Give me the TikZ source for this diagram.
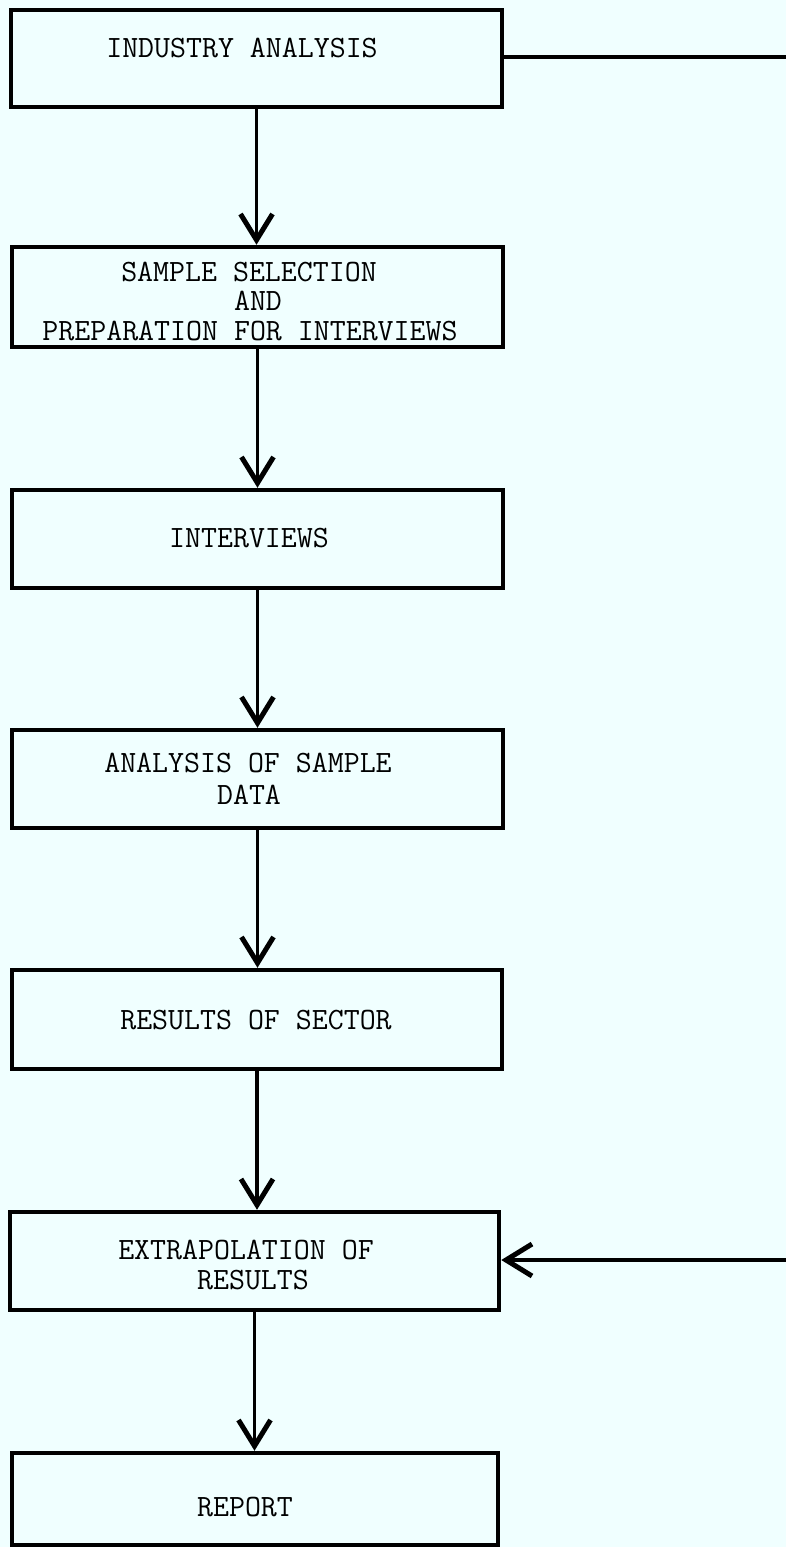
\documentclass[tikz,border=0pt]{standalone}
\usepackage{fontspec}
\usetikzlibrary{arrows.meta}
\definecolor{paper}{RGB}{240,255,255}
\tikzset{
  box/.style={draw=black, line width=4.5pt, rectangle, inner sep=0pt, line join=miter},
  lbl/.style={inner sep=0pt, font=\ttfamily\fontsize{31}{33}\selectfont, text=black},
  link/.style={draw=black, line width=3.5pt},
  arr/.style={link, -{Straight Barb[length=26pt, width=32pt, line width=5pt]}}
}
\begin{document}
\begin{tikzpicture}[x=1pt, y=-1pt]
\fill[paper] (0,0) rectangle (786,1547);
\useasboundingbox (0,0) rectangle (786,1547);
% boxes
\node[box, minimum width=491pt, minimum height=97pt] (b1) at (256.5,58.5) {};
\node[box, minimum width=491pt, minimum height=100pt] (b2) at (257.5,297) {};
\node[box, minimum width=491pt, minimum height=98pt] (b3) at (257.5,539) {};
\node[box, minimum width=491pt, minimum height=98pt] (b4) at (257.5,779) {};
\node[box, minimum width=490pt, minimum height=99pt] (b5) at (257,1019.5) {};
\node[box, minimum width=489pt, minimum height=98pt] (b6) at (254.5,1261) {};
\node[box, minimum width=486pt, minimum height=92pt] (b7) at (255,1499) {};
% texts
\node[lbl] (t2b) at (258,301) {AND};
\node[lbl] (t1) at (242,48) {INDUSTRY ANALYSIS};
\node[lbl] (t2a) at (249,272) {SAMPLE SELECTION};
\node[lbl] (t2c) at (250,331) {PREPARATION FOR INTERVIEWS};
\node[lbl] (t3) at (249,538) {INTERVIEWS};
\node[lbl] (t4a) at (248,763) {ANALYSIS OF SAMPLE};
\node[lbl] (t4b) at (249,795) {DATA};
\node[lbl] (t5) at (256,1020) {RESULTS OF SECTOR};
\node[lbl] (t6a) at (246,1250) {EXTRAPOLATION OF};
\node[lbl] (t6b) at (253,1280) {RESULTS};
\node[lbl] (t7) at (245,1507) {REPORT};
% free ends on the right
\coordinate (r1) at (786,57);
\coordinate (r6) at (786,1260);
% connectors
\draw[arr] (b1.south) -- (b1.south |- b2.north);
\draw[arr] (b2.south) -- (b2.south |- b3.north);
\draw[arr] (b3.south) -- (b3.south |- b4.north);
\draw[arr] (b4.south) -- (b4.south |- b5.north);
\draw[arr] (b5.south) -- (b5.south |- b6.north);
\draw[arr] (b6.south) -- (b6.south |- b7.north);
\draw[link] (b1.east |- r1) -- (r1);
\draw[arr] (r6) -- (b6.east |- r6);
\end{tikzpicture}
\end{document}
